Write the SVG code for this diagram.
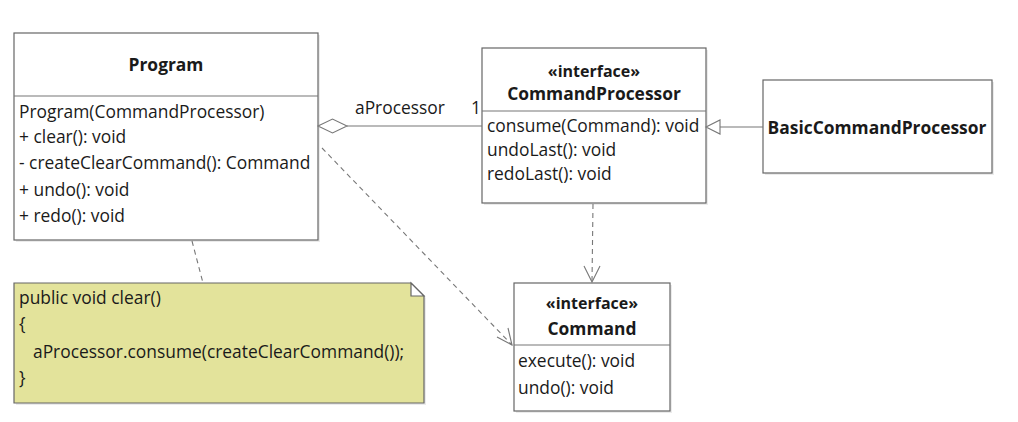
<svg xmlns="http://www.w3.org/2000/svg" width="1018" height="422" viewBox="0 0 1018 422">
<style>
text{font-family:"Open Sans","Noto Sans","Liberation Sans",sans-serif;font-size:17.4px;fill:#1a1a1a}
.b{font-weight:bold}
.c{text-anchor:middle}
.st{font-size:16px}
.box{fill:#fff;stroke:#666;stroke-width:1.2}
.sh{fill:#000;opacity:0.08}
.ln{stroke:#777;stroke-width:1.1;fill:none}
.dash{stroke:#777;stroke-width:1.1;fill:none;stroke-dasharray:5,4}
.head{stroke:#777;stroke-width:1.1;fill:#fff}
</style>
<rect x="0" y="0" width="1018" height="422" fill="#fff"/>
<g id="Program">
<rect class="sh" x="16" y="35" width="304" height="207"/>
<rect class="box" x="14" y="33" width="304" height="207"/>
<line class="ln" x1="14" y1="96" x2="318" y2="96" stroke="#666"/>
<text class="b c" x="166" y="71">Program</text>
<text x="19" y="118">Program(CommandProcessor)</text>
<text x="19" y="143">+ clear(): void</text>
<text x="19" y="169">- createClearCommand(): Command</text>
<text x="19" y="196">+ undo(): void</text>
<text x="19" y="222">+ redo(): void</text>
</g>
<g id="CommandProcessor">
<rect class="sh" x="484" y="50" width="224" height="155"/>
<rect class="box" x="482" y="48" width="224" height="155"/>
<line class="ln" x1="482" y1="111" x2="706" y2="111" stroke="#666"/>
<text class="b c st" x="594" y="77">«interface»</text>
<text class="b c" x="594" y="100">CommandProcessor</text>
<text x="487" y="132">consume(Command): void</text>
<text x="487" y="156">undoLast(): void</text>
<text x="487" y="180">redoLast(): void</text>
</g>
<g id="BasicCommandProcessor">
<rect class="sh" x="765" y="82" width="229" height="93"/>
<rect class="box" x="763" y="80" width="229" height="93"/>
<text class="b c" x="877" y="134">BasicCommandProcessor</text>
</g>
<g id="Command">
<rect class="sh" x="516" y="285" width="156" height="128"/>
<rect class="box" x="514" y="283" width="156" height="128"/>
<line class="ln" x1="514" y1="345" x2="670" y2="345" stroke="#666"/>
<text class="b c st" x="592" y="309">«interface»</text>
<text class="b c" x="592" y="335">Command</text>
<text x="518" y="367">execute(): void</text>
<text x="518" y="394">undo(): void</text>
</g>
<g id="Note">
<path class="sh" d="M16 285 H413 L426 298 V405 H16 Z"/>
<path d="M14 283 H411 L424 296 V403 H14 Z" fill="#e3e39b" stroke="#666" stroke-width="1.2"/>
<path d="M411 283 V296 H424 Z" fill="#fff" stroke="#666" stroke-width="1.2"/>
<text x="19" y="304">public void clear()</text>
<text x="19" y="330">{</text>
<text x="33" y="358">aProcessor.consume(createClearCommand());</text>
<text x="19" y="384">}</text>
</g>
<g id="connectors">
<line class="ln" x1="347" y1="126" x2="482" y2="126"/>
<path class="head" d="M318 126 L332.5 119 L347 126 L332.5 133 Z"/>
<text x="355" y="114">aProcessor</text>
<text x="471" y="114">1</text>
<line class="ln" x1="720" y1="127" x2="763" y2="127"/>
<path class="head" d="M706 127 L720 120 L720 134 Z"/>
<line class="dash" x1="593" y1="204" x2="592" y2="282"/>
<path class="ln" d="M584 266 L592 282 L600 266"/>
<line class="dash" x1="322" y1="148" x2="512" y2="345"/>
<path class="ln" d="M497 337 L512 345 L508 328"/>
<line class="dash" x1="192" y1="241" x2="203" y2="283"/>
</g>
</svg>
